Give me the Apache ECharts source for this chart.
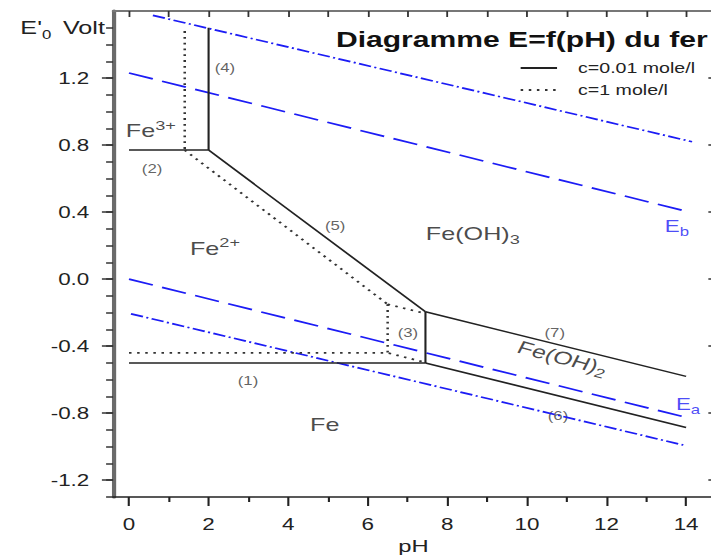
<!DOCTYPE html>
<html>
<head>
<meta charset="utf-8">
<script src="https://cdn.jsdelivr.net/npm/echarts@6/dist/echarts.min.js"></script>
<style>
html,body{margin:0;padding:0;background:#fff;overflow:hidden;}
#wrap{width:711px;height:555px;overflow:hidden;position:relative;}
#chart{width:508px;height:555px;transform:scaleX(1.39961);transform-origin:0 0;}
</style>
</head>
<body>
<div id="wrap"><div id="chart"></div></div>
<script>
// ---- axis ranges and ticks ----
const pHRange = [-0.4, 14.7];
const eRange = [-1.3, 1.6];
const pHTicks = [0, 2, 4, 6, 8, 10, 12, 14];
const pHMinorTicks = [1, 3, 5, 7, 9, 11, 13];
const pHTopTicks = [0, 1, 2, 3, 4, 5, 6, 7, 8, 9, 10, 11, 12, 13, 14];
const eTicks = [-1.2, -0.8, -0.4, 0, 0.4, 0.8, 1.2];
const eMinorTicks = [-1.3, -1.2, -1.1, -1.0, -0.9, -0.8, -0.7, -0.6, -0.5, -0.4, -0.3, -0.2, -0.1, 0,
  0.1, 0.2, 0.3, 0.4, 0.5, 0.6, 0.7, 0.8, 0.9, 1.0, 1.1, 1.2, 1.3, 1.4, 1.5];

// ---- boundaries, c = 0.01 mole/l (solid) ----
const line2_Fe3_Fe2 = [[0, 0.77], [2, 0.77]];
const line4_Fe3_FeOH3 = [[2, 0.77], [2, 1.5]];
const line5_FeOH3_Fe2 = [[2, 0.77], [7.45, -0.195]];
const line3_Fe2_FeOH2 = [[7.45, -0.195], [7.45, -0.50]];
const line1_Fe2_Fe = [[0, -0.50], [7.45, -0.50]];
const line7_FeOH3_FeOH2 = [[7.45, -0.195], [14, -0.58]];
const line6_FeOH2_Fe = [[7.45, -0.50], [14, -0.885]];

// ---- boundaries, c = 1 mole/l (dotted) ----
const dot4_Fe3_FeOH3 = [[1.4, 1.48], [1.4, 0.77]];
const dot5_FeOH3_Fe2 = [[1.4, 0.77], [6.5, -0.15]];
const dot3_Fe2_FeOH2 = [[6.5, -0.15], [6.5, -0.44]];
const dot7_FeOH3_FeOH2 = [[6.5, -0.15], [7.45, -0.205]];
const dot1_Fe2_Fe = [[0, -0.44], [6.5, -0.44], [7.45, -0.497]];

// ---- water lines (blue) ----
const waterEb = [[0, 1.23], [14, 0.405]];
const waterEa = [[0, 0.0], [14, -0.825]];
const upperDashDot = [[0.6, 1.574], [14.15, 0.82]];
const lowerDashDot = [[0.05, -0.207], [13.93, -0.99]];

// ---- annotation texts: [pH, E, text, style] ----
const regionLabels = [
  [0.55, 0.887, '{m|Fe}{sup|3+}', 'ion'],
  [2.16, 0.183, '{m|Fe}{sup|2+}', 'ion'],
  [8.64, 0.272, '{m|Fe(OH)}{sub|3}', 'sub'],
  [10.9, -0.47, '{m|Fe(OH)}{sub|2}', 'rot'],
  [4.92, -0.869, '{m|Fe}', 'plain'],
  [13.77, 0.317, '{e|E}{es|b}', 'blue'],
  [14.05, -0.745, '{e|E}{es|a}', 'blue']
];
const numberLabels = [
  [0.58, 0.657, '(2)'],
  [2.41, 1.26, '(4)'],
  [5.18, 0.317, '(5)'],
  [7.01, -0.322, '(3)'],
  [10.70, -0.322, '(7)'],
  [10.78, -0.816, '(6)'],
  [2.99, -0.608, '(1)']
];

const FONT = 'Liberation Sans, Arial, Helvetica, sans-serif';
const SOLID = 'c=0.01 mole/l';
const DOTTED = 'c=1 mole/l';
const BLUE = '#1c1cf5';

const chart = echarts.init(document.getElementById('chart'), null, {renderer: 'svg'});

function solid(data) {
  return {type: 'line', name: SOLID, data: data, symbol: 'none', silent: true,
    lineStyle: {color: '#222', width: 1.5, type: 'solid'}, itemStyle: {color: '#222'}};
}
function dotted(data) {
  return {type: 'line', name: DOTTED, data: data, symbol: 'none', silent: true,
    lineStyle: {color: '#333', width: 1.8, type: [1.8, 4]}, itemStyle: {color: '#333'}};
}
function blue(name, data, dash) {
  return {type: 'line', name: name, data: data, symbol: 'none', silent: true,
    lineStyle: {color: BLUE, width: 1.7, type: dash}, itemStyle: {color: BLUE}};
}

const rich = {
  m: {fontSize: 18, fontFamily: FONT, color: '#1a1a1a', lineHeight: 24, verticalAlign: 'middle'},
  sup: {fontSize: 13, fontFamily: FONT, color: '#1a1a1a', lineHeight: 13, verticalAlign: 'top'},
  sub: {fontSize: 13, fontFamily: FONT, color: '#1a1a1a', lineHeight: 13, verticalAlign: 'bottom'},
  e: {fontSize: 16, fontFamily: FONT, color: BLUE, lineHeight: 24, verticalAlign: 'middle'},
  es: {fontSize: 12, fontFamily: FONT, color: BLUE, lineHeight: 12, verticalAlign: 'bottom'}
};

const regionData = regionLabels.map(r => ({
  value: [r[0], r[1]],
  label: {show: true, position: 'inside', formatter: r[2], rich: rich,
    rotate: r[3] === 'rot' ? -20 : 0}
}));
const numberData = numberLabels.map(r => ({
  value: [r[0], r[1]],
  label: {show: true, position: 'inside', formatter: r[2], fontSize: 12,
    fontFamily: FONT, color: '#3a3a3a'}
}));

const axisCommonX = {type: 'value', min: pHRange[0], max: pHRange[1], splitLine: {show: false}};
const axisCommonY = {type: 'value', min: eRange[0], max: eRange[1], splitLine: {show: false}};

const option = {
  animation: false,
  backgroundColor: '#fff',
  grid: {left: 80.8, top: 11, width: 429.3, height: 486, containLabel: false, outerBoundsMode: 'none'},
  title: {
    text: 'Diagramme E=f(pH) du fer', left: 240, top: 29, padding: 0,
    textStyle: {fontSize: 21.5, fontWeight: 'bold', fontFamily: FONT, color: '#111'}
  },
  legend: {
    data: [SOLID, DOTTED], orient: 'vertical', left: 371, top: 61, padding: 0,
    itemWidth: 26, itemHeight: 14, itemGap: 8, selectedMode: false,
    itemStyle: {opacity: 0, borderWidth: 0},
    textStyle: {fontSize: 14, fontFamily: FONT, color: '#222', padding: [0, 0, 0, 10]}
  },
  xAxis: [
    Object.assign({}, axisCommonX, {
      position: 'bottom',
      name: 'pH', nameLocation: 'middle', nameGap: 40,
      nameTextStyle: {fontSize: 17, fontFamily: FONT, color: '#222'},
      axisLine: {show: true, onZero: false, lineStyle: {color: '#222', width: 1.5}},
      axisTick: {show: true, inside: false, length: 9, customValues: pHTicks,
        lineStyle: {color: '#222', width: 1.5}},
      axisLabel: {show: true, customValues: pHTicks, margin: 19, fontSize: 16,
        fontFamily: FONT, color: '#222'}
    }),
    Object.assign({}, axisCommonX, {
      position: 'bottom',
      axisLine: {show: false, onZero: false},
      axisTick: {show: true, inside: false, length: 5, customValues: pHMinorTicks,
        lineStyle: {color: '#222', width: 1.5}},
      axisLabel: {show: false}
    }),
    Object.assign({}, axisCommonX, {
      position: 'top',
      axisLine: {show: true, onZero: false, lineStyle: {color: '#777', width: 2}},
      axisTick: {show: true, inside: true, length: 6, customValues: pHTopTicks,
        lineStyle: {color: '#333', width: 1.3}},
      axisLabel: {show: false}
    })
  ],
  yAxis: [
    Object.assign({}, axisCommonY, {
      position: 'left',
      axisLine: {show: true, onZero: false, lineStyle: {color: '#6a6a6a', width: 3}},
      axisTick: {show: true, inside: false, length: 8, customValues: eTicks,
        lineStyle: {color: '#333', width: 1.5}},
      axisLabel: {show: true, customValues: eTicks, margin: 17, fontSize: 16,
        fontFamily: FONT, color: '#222', formatter: v => v.toFixed(1)}
    }),
    Object.assign({}, axisCommonY, {
      position: 'left',
      axisLine: {show: false, onZero: false},
      axisTick: {show: true, inside: false, length: 5, customValues: eMinorTicks,
        lineStyle: {color: '#333', width: 1.5}},
      axisLabel: {show: false}
    }),
    Object.assign({}, axisCommonY, {
      position: 'right',
      axisLine: {show: true, onZero: false, lineStyle: {color: '#777', width: 2}},
      axisTick: {show: true, inside: true, length: 4, customValues: eTicks,
        lineStyle: {color: '#333', width: 1.5}},
      axisLabel: {show: false}
    })
  ],
  graphic: [{
    type: 'text', x: 75, y: 27.7, silent: true,
    style: {
      text: "{e|E'}{s|0} {v|Volt}", align: 'right', verticalAlign: 'middle',
      rich: {
        e: {fontSize: 18, fontFamily: FONT, fill: '#222', lineHeight: 26, verticalAlign: 'middle'},
        s: {fontSize: 12, fontFamily: FONT, fill: '#222', lineHeight: 12, verticalAlign: 'bottom'},
        v: {fontSize: 18, fontFamily: FONT, fill: '#222', lineHeight: 26, verticalAlign: 'middle', padding: [0, 0, 0, 5]}
      }
    }
  }],
  series: [
    blue('Eb', waterEb, [18, 7]),
    blue('Ea', waterEa, [18, 7]),
    blue('upper', upperDashDot, [9, 2.5, 1.5, 2.5]),
    blue('lower', lowerDashDot, [9, 2.5, 1.5, 2.5]),
    solid(line2_Fe3_Fe2),
    solid(line4_Fe3_FeOH3),
    solid(line5_FeOH3_Fe2),
    solid(line3_Fe2_FeOH2),
    solid(line1_Fe2_Fe),
    solid(line7_FeOH3_FeOH2),
    solid(line6_FeOH2_Fe),
    dotted(dot4_Fe3_FeOH3),
    dotted(dot5_FeOH3_Fe2),
    dotted(dot3_Fe2_FeOH2),
    dotted(dot7_FeOH3_FeOH2),
    dotted(dot1_Fe2_Fe),
    {type: 'scatter', name: 'regions', data: regionData, symbolSize: 1, silent: true,
      itemStyle: {color: 'rgba(0,0,0,0)'}},
    {type: 'scatter', name: 'numbers', data: numberData, symbolSize: 1, silent: true,
      itemStyle: {color: 'rgba(0,0,0,0)'}}
  ]
};
chart.setOption(option);
</script>
</body>
</html>
